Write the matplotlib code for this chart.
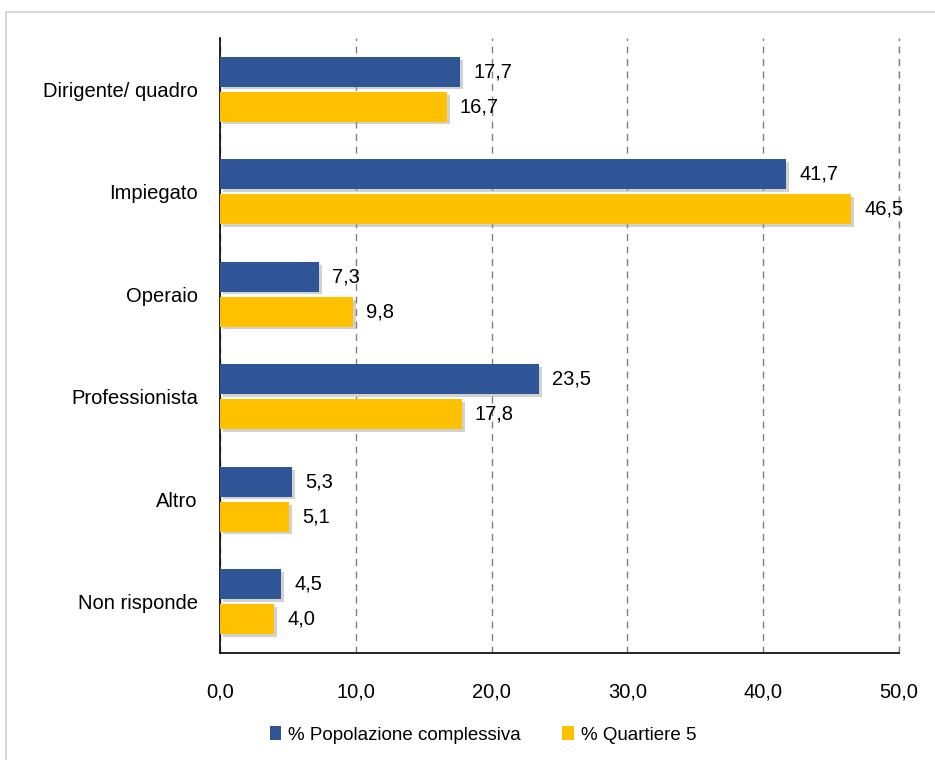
import matplotlib.pyplot as plt
import matplotlib.patheffects as pe
from matplotlib.patches import Rectangle, Patch
import numpy as np

categories = ["Dirigente/ quadro", "Impiegato", "Operaio", "Professionista", "Altro", "Non risponde"]
popolazione = [17.7, 41.7, 7.3, 23.5, 5.3, 4.5]
quartiere = [16.7, 46.5, 9.8, 17.8, 5.1, 4.0]
series_names = ["% Popolazione complessiva", "% Quartiere 5"]
xticks = [0, 10, 20, 30, 40, 50]

blue = "#2F5597"
yellow = "#FFC000"

plt.rcParams['font.family'] = ['Liberation Sans', 'DejaVu Sans']

fig = plt.figure(figsize=(9.35, 7.6), dpi=100)
fig.patches.append(Rectangle((6 / 935, -0.05), 1.0, 1.05 - 12 / 760, transform=fig.transFigure,
                             fill=False, edgecolor="#d0d0d0", linewidth=1.2))
ax = fig.add_axes([220 / 935, 107 / 760, 679 / 935, 615 / 760])

y = np.arange(len(categories))
h = 0.29
shadow = [pe.SimplePatchShadow(offset=(2, -2), shadow_rgbFace="#999999", alpha=0.45), pe.Normal()]
b1 = ax.barh(y - h / 2 - 0.025, popolazione, height=h, color=blue, zorder=3)
b2 = ax.barh(y + h / 2 + 0.025, quartiere, height=h, color=yellow, zorder=3)
for bars in (b1, b2):
    for b in bars:
        b.set_path_effects(shadow)

for yy, v in zip(y - h / 2 - 0.025, popolazione):
    ax.text(v + 0.95, yy, f"{v:.1f}".replace(".", ","), va="center", ha="left", fontsize=14.5, zorder=4)
for yy, v in zip(y + h / 2 + 0.025, quartiere):
    ax.text(v + 0.95, yy, f"{v:.1f}".replace(".", ","), va="center", ha="left", fontsize=14.5, zorder=4)

ax.set_ylim(len(categories) - 0.5, -0.5)
ax.set_xlim(0, 50)
ax.set_yticks(y)
ax.set_yticklabels(categories, fontsize=14.5)
ax.set_xticks(xticks)
ax.set_xticklabels([f"{t:.1f}".replace(".", ",") for t in xticks], fontsize=14.5)
ax.tick_params(axis="y", length=0, pad=16)
ax.tick_params(axis="x", length=0, pad=21)

ax.grid(axis="x", linestyle=(0, (5, 4)), color="#808080", linewidth=1.0, zorder=0)
for s in ("top", "right"):
    ax.spines[s].set_visible(False)
ax.spines["left"].set_color("black")
ax.spines["bottom"].set_color("black")
ax.spines["left"].set_linewidth(1.2)
ax.spines["bottom"].set_linewidth(1.2)
ax.axvline(50, linestyle=(0, (5, 4)), color="#808080", linewidth=1.0, zorder=0, clip_on=False)

handles = [Patch(facecolor=blue, label=series_names[0]), Patch(facecolor=yellow, label=series_names[1])]
ax.legend(handles=handles, loc="center", bbox_to_anchor=(483 / 935, 25 / 760), bbox_transform=fig.transFigure,
          ncol=2, frameon=False, fontsize=13.5, handlelength=0.6, handleheight=0.75,
          handletextpad=0.4, columnspacing=2.2)

fig.savefig("out.png", dpi=100)
